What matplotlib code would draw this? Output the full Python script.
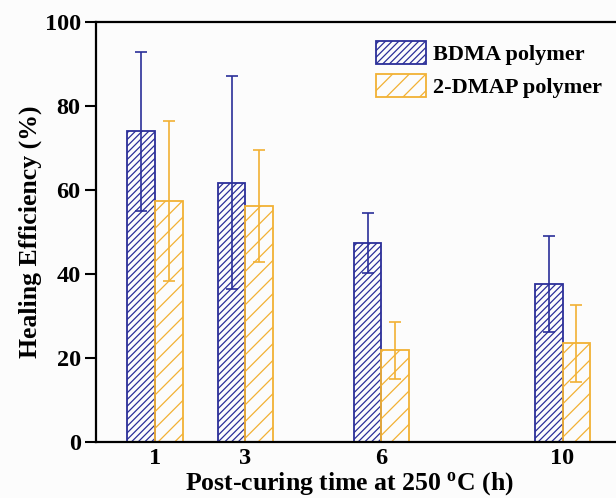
import numpy as np
import matplotlib
matplotlib.use("Agg")
import matplotlib.pyplot as plt

plt.rcParams['font.family'] = ['Liberation Serif', 'DejaVu Serif']
plt.rcParams['font.weight'] = 'bold'
plt.rcParams['hatch.linewidth'] = 0.9

# post-curing time (h)
times = [1, 3, 6, 10]
bdma = [73.9, 61.7, 47.3, 37.5]
bdma_err = [18.9, 25.4, 7.2, 11.5]
dmap = [57.3, 56.1, 21.7, 23.4]
dmap_err = [19.0, 13.3, 6.8, 9.1]
labels = ['BDMA polymer', '2-DMAP polymer']

blue = '#2B2F99'
orange = '#F2B134'

W, H = 616, 498
fig = plt.figure(figsize=(W / 100, H / 100), dpi=100)
fig.patch.set_facecolor('#FCFCFC')
# axes runs off the right edge like in the original picture
ax = fig.add_axes([96 / W, (H - 441.5) / H, 534.5 / W, 419.5 / H])
ax.set_facecolor('#FCFCFC')

x = np.array(times, dtype=float)
w = 0.61
ax.bar(x - w / 2, bdma, w, yerr=bdma_err, color='none', edgecolor=blue,
       hatch='/////', linewidth=1.3, label=labels[0],
       error_kw=dict(ecolor=blue, elinewidth=1.2, capsize=4.5, capthick=1.2))
ax.bar(x + w / 2, dmap, w, yerr=dmap_err, color='none', edgecolor=orange,
       hatch='//', linewidth=1.3, label=labels[1],
       error_kw=dict(ecolor=orange, elinewidth=1.2, capsize=4.5, capthick=1.2))

ax.set_xlim(-0.3, 11.5)
ax.set_ylim(0, 100)
ax.set_xticks(times)
ax.set_xticklabels([str(t) for t in times])
ax.set_yticks([0, 20, 40, 60, 80, 100])
ax.tick_params(axis='x', length=0, labelsize=17.5, pad=5)
ax.tick_params(axis='y', length=8, width=1.5, labelsize=17.5, pad=3, direction='out')
for s in ax.spines.values():
    s.set_linewidth(1.6)

ax.set_xlabel('Post-curing time at 250 $\\mathregular{^o}$C (h)', fontsize=18.5,
              fontweight='bold')
ax.xaxis.set_label_coords((349 - 96) / 534.5, -0.069)
ax.set_ylabel('Healing Efficiency (%)', fontsize=18.5, fontweight='bold')
ax.yaxis.set_label_coords(-0.101, 0.5)

leg = ax.legend(loc='upper left', bbox_to_anchor=(376 / W, 1 - 41 / H),
                bbox_transform=fig.transFigure, frameon=False, fontsize=16,
                handlelength=2.25, handleheight=1.2, handletextpad=0.3,
                labelspacing=0.4, borderpad=0, borderaxespad=0)

plt.savefig('out.png', dpi=100, facecolor=fig.get_facecolor())
